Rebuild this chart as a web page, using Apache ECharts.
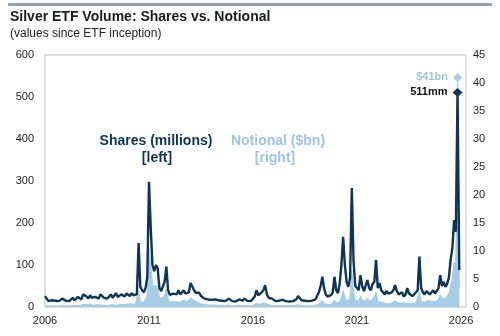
<!DOCTYPE html>
<html>
<head>
<meta charset="utf-8">
<script src="https://cdn.jsdelivr.net/npm/echarts@6/dist/echarts.min.js"></script>
<style>
html,body{margin:0;padding:0;background:#fff;}
#chart{width:500px;height:336px;}
</style>
</head>
<body>
<div id="chart"></div>
<script>
// ---- data (monthly points, first month = start of 2006 on the chart's axis) ----
const startYear = 2006;
const xTickLabels = [2006, 2011, 2016, 2021, 2026];
const leftTicks = [0, 100, 200, 300, 400, 500, 600];
const rightTicks = [0, 5, 10, 15, 20, 25, 30, 35, 40, 45];

// Shares traded (millions) [left axis]
const shares = [
  26,20,14,12,16,13,15,18,14,16,20,17,        // 2006
  15,18,14,17,22,16,19,24,20,18,30,33,        // 2007
  25,20,28,22,18,24,26,20,30,27,22,18,        // 2008
  20,24,30,22,26,33,24,22,30,28,25,32,        // 2009
  30,26,33,28,24,30,152,48,40,35,45,70,       // 2010
  298,188,100,85,100,92,45,38,42,60,96,40,    // 2011
  29,27,32,28,30,40,30,26,40,32,28,35,        // 2012
  57,55,40,34,36,34,26,22,20,24,18,20,        // 2013
  17,15,18,14,16,13,15,17,14,18,20,16,        // 2014
  14,16,13,15,18,14,15,20,17,14,16,15,        // 2015
  18,25,40,28,30,35,40,52,30,22,18,20,        // 2016
  16,14,18,15,13,17,15,14,16,13,15,14,        // 2017
  15,18,26,22,16,14,15,17,14,16,15,18,        // 2018
  18,22,35,50,72,45,30,25,22,28,35,72,        // 2019
  40,33,55,100,167,100,60,48,70,283,110,50,   // 2020
  45,40,76,50,38,42,64,45,40,55,60,112,       // 2021
  45,57,40,35,30,38,32,28,35,40,52,38,        // 2022
  30,28,35,25,30,45,32,28,26,30,35,40,        // 2023
  120,45,35,30,38,42,30,35,40,32,38,45,       // 2024
  76,50,60,48,55,70,112,140,207,179,511,88    // 2025
];

// Notional traded ($bn) [right axis]
const notional = [
  0.30,0.26,0.18,0.16,0.20,0.17,0.19,0.23,0.18,0.20,0.26,0.22,   // 2006
  0.20,0.24,0.19,0.23,0.29,0.21,0.25,0.31,0.27,0.25,0.42,0.46,   // 2007
  0.40,0.35,0.50,0.38,0.31,0.41,0.45,0.32,0.36,0.30,0.23,0.18,   // 2008
  0.24,0.30,0.38,0.28,0.36,0.48,0.34,0.32,0.48,0.47,0.44,0.55,   // 2009
  0.50,0.42,0.56,0.50,0.44,0.55,2.80,0.90,0.80,0.80,1.10,2.00,   // 2010
  10.5,7.5,4.0,3.5,3.9,3.4,1.6,1.4,1.6,2.1,3.2,1.3,              // 2011
  0.90,0.85,1.00,0.85,0.90,1.20,0.85,0.75,1.20,1.00,0.90,1.10,   // 2012
  1.60,1.50,1.10,0.90,0.85,0.75,0.50,0.45,0.42,0.50,0.35,0.38,   // 2013
  0.33,0.29,0.35,0.27,0.30,0.24,0.28,0.32,0.25,0.30,0.32,0.25,   // 2014
  0.22,0.25,0.20,0.23,0.28,0.21,0.22,0.29,0.24,0.20,0.22,0.21,   // 2015
  0.27,0.37,0.60,0.42,0.47,0.55,0.70,0.90,0.52,0.38,0.30,0.32,   // 2016
  0.26,0.23,0.29,0.25,0.21,0.27,0.24,0.22,0.25,0.20,0.23,0.22,   // 2017
  0.24,0.28,0.40,0.34,0.25,0.22,0.22,0.25,0.20,0.23,0.22,0.26,   // 2018
  0.27,0.33,0.52,0.73,1.08,0.68,0.48,0.42,0.38,0.47,0.58,1.20,   // 2019
  0.70,0.55,0.90,1.70,2.90,1.70,1.00,0.80,1.50,6.50,2.60,1.20,   // 2020
  1.10,1.00,1.90,1.25,0.95,1.05,1.55,1.05,0.90,1.30,1.40,2.60,   // 2021
  0.95,1.20,0.85,0.75,0.65,0.80,0.62,0.55,0.70,0.80,1.05,0.82,   // 2022
  0.65,0.60,0.75,0.55,0.66,1.00,0.70,0.62,0.55,0.65,0.75,0.90,   // 2023
  2.70,1.00,0.85,0.80,1.10,1.20,0.85,1.00,1.15,0.95,1.15,1.30,   // 2024
  2.20,1.50,1.80,1.50,1.70,2.30,3.80,5.00,8.00,7.50,41.0,3.50    // 2025
];

const sharesPeakLabel = '511mm';
const notionalPeakLabel = '$41bn';

// month positions along the axis
const months = shares.map((_, i) => startYear + i / 12);
const sharesData = shares.map((v, i) => [months[i], v]);
const notionalData = notional.map((v, i) => [months[i], v]);
const sPeak = shares.indexOf(Math.max(...shares));
const nPeak = notional.indexOf(Math.max(...notional));

const DARK = '#0d3557';
const LIGHT = '#a6cde8';
const FONT = 'Arial, "Liberation Sans", sans-serif';

const chart = echarts.init(document.getElementById('chart'), null, {renderer: 'canvas'});
chart.setOption({
  animation: false,
  backgroundColor: '#fff',
  grid: {left: 45, right: 34, top: 55, bottom: 29, show: true, borderColor: '#bdbdbd', borderWidth: 1, containLabel: false},
  xAxis: {
    type: 'value', min: xTickLabels[0], max: 2026.24, interval: 5,
    axisLine: {show: false}, axisTick: {show: false}, splitLine: {show: false},
    axisLabel: {
      margin: 8, color: '#222', fontSize: 11, fontFamily: FONT,
      showMaxLabel: false,
      formatter: v => xTickLabels.includes(v) ? String(v) : ''
    }
  },
  yAxis: [
    {type: 'value', min: leftTicks[0], max: leftTicks[leftTicks.length - 1], interval: 100,
     axisLine: {show: false}, axisTick: {show: false}, splitLine: {show: false},
     axisLabel: {margin: 11, color: '#222', fontSize: 11, fontFamily: FONT}},
    {type: 'value', min: rightTicks[0], max: rightTicks[rightTicks.length - 1], interval: 5,
     axisLine: {show: false}, axisTick: {show: false}, splitLine: {show: false},
     axisLabel: {margin: 7, color: '#222', fontSize: 11, fontFamily: FONT}}
  ],
  series: [
    {
      name: 'Notional ($bn)', type: 'line', yAxisIndex: 1, data: notionalData,
      symbol: 'none', z: 2,
      lineStyle: {color: LIGHT, width: 1.2}, itemStyle: {color: LIGHT},
      areaStyle: {color: LIGHT, opacity: 1},
      markPoint: {
        symbol: 'diamond', symbolSize: 9,
        itemStyle: {color: LIGHT},
        label: {show: true, position: 'left', distance: 5, formatter: notionalPeakLabel,
                color: '#9cc3df', fontWeight: 'bold', fontSize: 11, fontFamily: FONT},
        data: [{coord: notionalData[nPeak]}]
      }
    },
    {
      name: 'Shares (millions)', type: 'line', yAxisIndex: 0, data: sharesData,
      symbol: 'none', z: 3,
      lineStyle: {color: DARK, width: 2.4}, itemStyle: {color: DARK},
      markPoint: {
        symbol: 'diamond', symbolSize: [10, 9],
        itemStyle: {color: DARK},
        label: {show: true, position: 'left', distance: 5, formatter: sharesPeakLabel,
                color: '#111', fontWeight: 'bold', fontSize: 11, fontFamily: FONT},
        data: [{coord: sharesData[sPeak]}]
      }
    }
  ],
  graphic: [
    {type: 'rect', shape: {x: 8, y: 3, width: 484, height: 3}, style: {fill: '#96a3ae'}},
    {type: 'text', x: 10, y: 10, style: {text: 'Silver ETF Volume: Shares vs. Notional', font: 'bold 14px ' + FONT, fill: '#1a1a1a'}},
    {type: 'text', x: 10, y: 28, style: {text: '(values since ETF inception)', font: '12px ' + FONT, fill: '#222'}},
    {type: 'text', x: 156, y: 141, style: {text: 'Shares (millions)', font: 'bold 14px ' + FONT, fill: DARK, align: 'center', verticalAlign: 'middle'}},
    {type: 'text', x: 157, y: 158, style: {text: '[left]', font: 'bold 14px ' + FONT, fill: DARK, align: 'center', verticalAlign: 'middle'}},
    {type: 'text', x: 278, y: 141, style: {text: 'Notional ($bn)', font: 'bold 14px ' + FONT, fill: '#9cc6e3', align: 'center', verticalAlign: 'middle'}},
    {type: 'text', x: 275, y: 158, style: {text: '[right]', font: 'bold 14px ' + FONT, fill: '#9cc6e3', align: 'center', verticalAlign: 'middle'}}
  ]
});
</script>
</body>
</html>
